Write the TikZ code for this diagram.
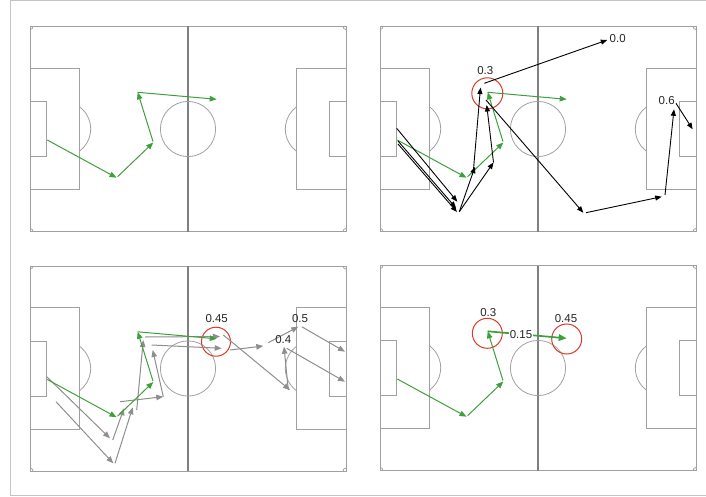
\documentclass[tikz,border=0pt]{standalone}
\usepackage{fontspec}
\newfontfamily\labfont{Liberation Sans}
\usetikzlibrary{arrows.meta}
\definecolor{pline}{HTML}{A0A0A0}
\definecolor{mline}{HTML}{808080}
\definecolor{grn}{HTML}{3DA03D}
\definecolor{rdc}{HTML}{D93A2B}
\definecolor{gyc}{HTML}{8E8E8E}
\definecolor{frm}{HTML}{C4C4C4}
\tikzset{
  pl/.style={draw=pline, line width=0.8pt},
  midl/.style={draw=mline, line width=1.3pt},
  garrow/.style={draw=grn, line width=1pt, -{Triangle[length=7pt,width=5.5pt]}},
  gbold/.style={draw=grn, line width=1.7pt, -{Triangle[length=8pt,width=6.5pt]}},
  karrow/.style={draw=black, line width=0.9pt, -{Triangle[length=6.5pt,width=5pt]}},
  yarrow/.style={draw=gyc, line width=1pt, -{Triangle[length=7pt,width=5.5pt]}},
  ring/.style={draw=rdc, line width=1pt},
  lab/.style={font=\labfont\fontsize{11.5}{13}\selectfont, text=black!85, inner sep=0.5pt},
}
\newcommand\drawpitch{%
  \draw[pl] (0,0) rectangle (316,205);
  \draw[midl] (158,0) -- (158,205);
  \draw[pl] (158,102.5) circle[radius=27.6];
  \draw[pl] (0,41.8) rectangle (49.7,163.2);
  \draw[pl] (0,74.9) rectangle (16.6,130.1);
  \draw[pl] (316,41.8) rectangle (266.3,163.2);
  \draw[pl] (316,74.9) rectangle (299.4,130.1);
  \draw[pl] (33.1,102.5) ++(-53:27.6) arc[start angle=-53,end angle=53,radius=27.6];
  \draw[pl] (282.9,102.5) ++(127:27.6) arc[start angle=127,end angle=233,radius=27.6];
  \draw[pl] (3,0) arc[start angle=0,end angle=90,radius=3];
  \draw[pl] (313,0) arc[start angle=180,end angle=90,radius=3];
  \draw[pl] (3,205) arc[start angle=0,end angle=-90,radius=3];
  \draw[pl] (313,205) arc[start angle=180,end angle=270,radius=3];
}
\newcommand\greencoords[1]{%
  \coordinate (#1a) at (17.3,113.5);
  \coordinate (#1b) at (86.5,151.2);
  \coordinate (#1c) at (123.3,116);
  \coordinate (#1d) at (107.7,65.8);
  \coordinate (#1e) at (186.7,72.8);
}
\begin{document}
\begin{tikzpicture}[x=1pt,y=-1pt]
\useasboundingbox (0,0) rectangle (706,497);
% outer frame
\coordinate (fa) at (720,1);
\coordinate (fb) at (10,1);
\coordinate (fc) at (10,495);
\coordinate (fd) at (720,495);
\draw[frm, line width=1pt] (fa) -- (fb) -- (fc) -- (fd);

% ---------- pitch 1 ----------
\begin{scope}[shift={(30,26.5)}]
  \drawpitch
  \greencoords{p}
  \draw[garrow] (pa) -- (pb);
  \draw[garrow, shorten <=1.5pt] (pb) -- (pc);
  \draw[garrow, shorten <=1pt] (pc) -- (pd);
  \draw[garrow] (pd) -- (pe);
\end{scope}

% ---------- pitch 2 ----------
\begin{scope}[shift={(380,26.5)}]
  \drawpitch
  \greencoords{q}
\end{scope}
\coordinate (k1s) at (396.7,128.3); \coordinate (k1e) at (457.3,201.7);
\coordinate (k2s) at (398,141);     \coordinate (k2e) at (456,208);
\coordinate (k3s) at (398,144);     \coordinate (k3e) at (457,212);
\coordinate (kv)  at (459.3,211.7);
\coordinate (k4e) at (475,166.7);
\coordinate (k5e) at (493.5,162.5);
\coordinate (k6s) at (473.3,171.7); \coordinate (k6e) at (480.5,87.5);
\coordinate (k7e) at (486.7,105);
\coordinate (k8s) at (486,100);     \coordinate (k8e) at (583.3,212.7);
\coordinate (k9s) at (586,212.7);   \coordinate (k9e) at (661.7,196.7);
\coordinate (k10s) at (665,195);    \coordinate (k10e) at (674,109.3);
\coordinate (k11s) at (676,103.3);  \coordinate (k11e) at (692.7,129.3);
\coordinate (k12s) at (484.3,83.3); \coordinate (k12e) at (607.3,40);
\node[ring, circle, minimum size=31pt, inner sep=0pt] (c2) at (487.3,93.3) {};
\draw[garrow] (qa) -- (qb);
\draw[garrow, shorten <=1.5pt] (qb) -- (qc);
\draw[garrow, shorten <=1pt] (qc) -- (qd);
\draw[garrow] (qd) -- (qe);
\draw[karrow] (k1s) -- (k1e);
\draw[karrow] (k2s) -- (k2e);
\draw[karrow] (k3s) -- (k3e);
\draw[karrow] (kv) -- (k4e);
\draw[karrow] (kv) -- (k5e);
\draw[karrow] (k6s) -- (k6e);
\draw[karrow] (k5e) -- (k7e);
\draw[karrow] (k8s) -- (k8e);
\draw[karrow] (k9s) -- (k9e);
\draw[karrow] (k10s) -- (k10e);
\draw[karrow] (k11s) -- (k11e);
\draw[karrow] (k12s) -- (k12e);
\node[lab] (t03a) at (485.3,70.7) {0.3};
\node[lab, anchor=west] (t00) at (609,39) {0.0};
\node[lab] (t06) at (666.7,100.7) {0.6};

% ---------- pitch 3 ----------
\begin{scope}[shift={(30,266)}]
  \drawpitch
  \greencoords{r}
\end{scope}
\coordinate (y1s) at (46.7,376.7);  \coordinate (y1e) at (110,438.3);
\coordinate (y2s) at (56,401.7);    \coordinate (y2e) at (113.3,463.3);
\coordinate (y3s) at (112.7,440);   \coordinate (y3e) at (124,408.3);
\coordinate (y4s) at (115,463.3);   \coordinate (y4e) at (132.7,407.3);
\coordinate (y5s) at (120,401.7);   \coordinate (y5e) at (163.3,396.7);
\coordinate (y6s) at (136.7,410);   \coordinate (y6e) at (143.3,340);
\coordinate (y7s) at (163.3,396.7); \coordinate (y7e) at (152.7,350);
\coordinate (y8s) at (145,337);     \coordinate (y8e) at (220,336.5);
\coordinate (y9s) at (151.7,345);   \coordinate (y9e) at (221.7,348.3);
\coordinate (y10s) at (223.3,335);  \coordinate (y10e) at (290,390);
\coordinate (y11s) at (230,350);    \coordinate (y11e) at (263.3,346);
\coordinate (y12s) at (268.3,342.7);\coordinate (y12e) at (298.3,326.7);
\coordinate (y13s) at (301.7,326.7);\coordinate (y13e) at (345,351.7);
\coordinate (y14s) at (286.7,348.3);\coordinate (y14e) at (345,381.7);
\coordinate (y15s) at (288.3,390);  \coordinate (y15e) at (284,346.7);
\node[ring, circle, minimum size=29pt, inner sep=0pt] (c3) at (216,341.7) {};
\draw[yarrow] (y1s) -- (y1e);
\draw[yarrow] (y2s) -- (y2e);
\draw[yarrow] (y3s) -- (y3e);
\draw[yarrow] (y4s) -- (y4e);
\draw[yarrow] (y5s) -- (y5e);
\draw[yarrow] (y6s) -- (y6e);
\draw[yarrow] (y7s) -- (y7e);
\draw[yarrow] (y8s) -- (y8e);
\draw[yarrow] (y9s) -- (y9e);
\draw[yarrow] (y10s) -- (y10e);
\draw[yarrow] (y11s) -- (y11e);
\draw[yarrow] (y12s) -- (y12e);
\draw[yarrow] (y13s) -- (y13e);
\draw[yarrow] (y14s) -- (y14e);
\draw[yarrow] (y15s) -- (y15e);
\draw[garrow] (ra) -- (rb);
\draw[garrow, shorten <=1.5pt] (rb) -- (rc);
\draw[garrow, shorten <=1pt] (rc) -- (rd);
\draw[garrow] (rd) -- (re);
\node[lab] (t045a) at (216.7,318.3) {0.45};
\node[lab] (t05) at (300,318.3) {0.5};
\node[lab] (t04) at (283.3,339.3) {0.4};

% ---------- pitch 4 ----------
\begin{scope}[shift={(380,265.5)}]
  \drawpitch
  \greencoords{s}
\end{scope}
\node[ring, circle, minimum size=30pt, inner sep=0pt] (c4a) at (487.3,333.3) {};
\node[ring, circle, minimum size=30pt, inner sep=0pt] (c4b) at (566.7,339) {};
\draw[garrow] (sa) -- (sb);
\draw[garrow, shorten <=1.5pt] (sb) -- (sc);
\draw[garrow, shorten <=1pt] (sc) -- (sd);
\draw[gbold] (sd) -- (se);
\node[lab, fill=white] (t015) at (521,335) {0.15};
\node[lab] (t03b) at (488.3,312.3) {0.3};
\node[lab] (t045b) at (566,318.3) {0.45};
\end{tikzpicture}
\end{document}
